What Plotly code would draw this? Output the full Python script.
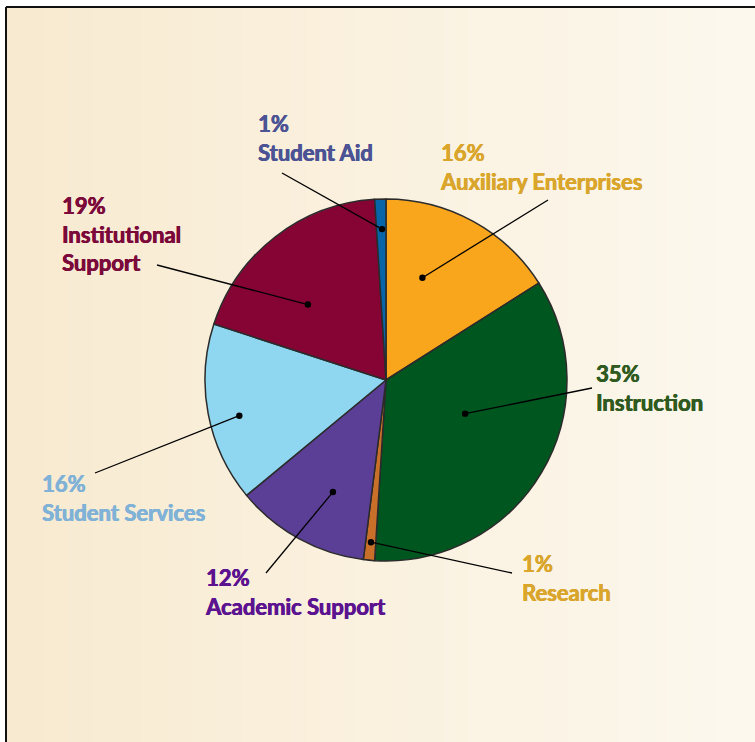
import math
import plotly.graph_objects as go

# ---- data ----
categories = ["Auxiliary Enterprises", "Instruction", "Research", "Academic Support",
              "Student Services", "Institutional Support", "Student Aid"]
shares = [16, 35, 1, 12, 16, 19, 1]
label_lines = ["Auxiliary Enterprises", "Instruction", "Research", "Academic Support",
               "Student Services", "Institutional<br>Support", "Student Aid"]

# ---- styles ----
slice_colors = ["#F9A61C", "#00561F", "#C8702A", "#5B3E96", "#8FD7F0", "#850434", "#0765A8"]
text_colors = ["#D9A52B", "#2F5A20", "#D9A52B", "#5C1390", "#7FB2D6", "#7B0A3B", "#4B5394"]

W, H = 755, 742
CX, CY, R = 386, 380, 181  # pie centre / radius in px

# label text top-left (px), leader-line start (px), dot anchor (fraction of slice angle, fraction of radius)
label_pos = [(438, 137), (594, 358), (520, 548), (203, 562), (40, 468), (60, 190), (256, 108)]
line_start = [(548, 200), (592, 388), (512, 573), (266, 573), (95, 473), (157, 265), (282, 173)]
dot_anchor = [(0.34, 0.60), (0.44, 0.475), (0.47, 0.90), (0.42, 0.685), (0.45, 0.834), (0.38, 0.60), (0.58, 0.834)]


def px(x):
    return x / W


def py(y):
    return 1 - y / H


fig = go.Figure()

fig.add_trace(go.Pie(
    labels=categories, values=shares, sort=False, direction="clockwise", rotation=0,
    marker=dict(colors=slice_colors, line=dict(color="#2b2b2b", width=1.5)),
    textinfo="none", hoverinfo="label+percent", showlegend=False,
    domain=dict(x=[px(CX - R), px(CX + R)], y=[py(CY + R), py(CY - R)]),
))

shapes = []
# background gradient (vertical strips)
c0 = (248, 234, 208)
c1 = (252, 248, 238)
n = 60
x0, x1 = 6, W
for i in range(n):
    t = i / (n - 1)
    col = tuple(round(c0[k] + (c1[k] - c0[k]) * t) for k in range(3))
    xa = x0 + (x1 - x0) * i / n
    xb = x0 + (x1 - x0) * (i + 1) / n + 0.5
    shapes.append(dict(type="rect", xref="paper", yref="paper", layer="below",
                       x0=px(xa), x1=px(xb), y0=0, y1=py(7),
                       fillcolor="rgb(%d,%d,%d)" % col, line=dict(width=0)))
# frame
shapes.append(dict(type="line", xref="paper", yref="paper", x0=px(6), x1=1, y0=py(7), y1=py(7),
                   line=dict(color="#111", width=2)))
shapes.append(dict(type="line", xref="paper", yref="paper", x0=px(6), x1=px(6), y0=0, y1=py(7),
                   line=dict(color="#111", width=2)))

annotations = []
total = sum(shares)
cum = 0
for i, v in enumerate(shares):
    fa, fr = dot_anchor[i]
    ang = math.radians((cum + v * fa) / total * 360)
    cum += v
    dx = CX + fr * R * math.sin(ang)
    dy = CY - fr * R * math.cos(ang)
    sx, sy = line_start[i]
    shapes.append(dict(type="line", xref="paper", yref="paper", x0=px(sx), y0=py(sy), x1=px(dx), y1=py(dy),
                       line=dict(color="#000", width=1.3)))
    shapes.append(dict(type="circle", xref="paper", yref="paper",
                       x0=px(dx - 3.2), x1=px(dx + 3.2), y0=py(dy + 3.2), y1=py(dy - 3.2),
                       fillcolor="#000", line=dict(width=0)))
    lx, ly = label_pos[i]
    pct = round(v / total * 100)
    col = text_colors[i]
    annotations.append(dict(
        xref="paper", yref="paper", x=px(lx), y=py(ly), xanchor="left", yanchor="top",
        text="%d%%<br>%s" % (pct, label_lines[i]), showarrow=False, align="left",
        font=dict(family="Lato", size=22, color=col, weight="bold",
                  shadow="0.5px 0 0 %s, -0.3px 0 0 %s" % (col, col)),
    ))

fig.update_layout(
    width=W, height=H, margin=dict(l=0, r=0, t=0, b=0),
    paper_bgcolor="white", plot_bgcolor="rgba(0,0,0,0)",
    shapes=shapes, annotations=annotations,
)

fig.write_html("out.html", config={"displayModeBar": False},
               post_script="document.body.style.margin='0';")
